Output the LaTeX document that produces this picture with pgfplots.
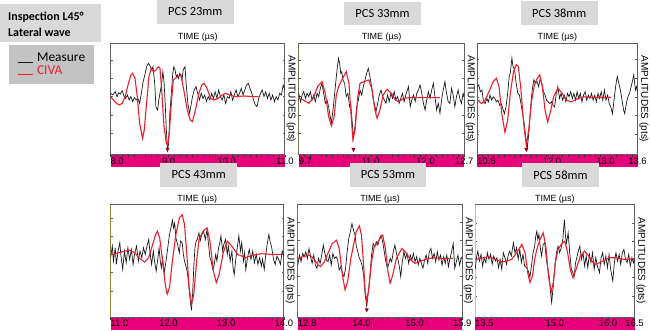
\documentclass[border=0pt]{standalone}
\usepackage{fontspec}
\setmainfont{Liberation Sans}
\newfontfamily\carlito{Carlito}
\usepackage{pgfplots}
\pgfplotsset{compat=1.18}
\definecolor{civared}{RGB}{240,30,45}
\definecolor{measblack}{RGB}{25,25,25}
\definecolor{barpink}{RGB}{232,0,122}
\definecolor{boxgray}{RGB}{217,217,217}
\definecolor{leggray}{RGB}{195,195,195}
\definecolor{spine}{RGB}{225,215,0}
\definecolor{framegray}{RGB}{95,95,95}
\definecolor{cursorred}{RGB}{150,0,30}
\pgfplotsset{
  panel/.style={
    scale only axis, anchor=south west,
    axis line style={framegray, line width=0.9pt},
    xtick pos=left, ytick pos=both,
    xtick align=outside, ytick align=inside,
    major tick length=2.2pt, minor tick length=1.6pt,
    x tick style={black!80, line width=0.5pt},
    minor x tick style={black!80, line width=0.5pt},
    y tick style={framegray, line width=0.5pt},
    ytick={-110,-55,0,55,110}, yticklabels={},
    xticklabel style={font=\fontsize{9.5}{10}\selectfont, inner sep=0.4pt, text=black},
    xlabel={TIME (µs)},
    xlabel style={at={(axis description cs:0.5,1)}, anchor=south, inner sep=1.5pt, font=\fontsize{9}{10}\selectfont},
    ylabel={AMPLITUDES (pts)},
    ylabel style={at={(axis description cs:1,0.5)}, rotate=180, anchor=south, inner sep=1.5pt, font=\fontsize{10}{11}\selectfont},
    title style={fill=boxgray, minimum width=77pt, minimum height=24pt, inner sep=0pt, anchor=center, font=\carlito\fontsize{12.5}{14}\selectfont},
  },
  measline/.style={color=measblack, line width=0.7pt},
  civaline/.style={color=civared, line width=1.1pt},
}
\begin{document}
\begin{tikzpicture}
\begin{scope}[x=1pt,y=1pt]
\useasboundingbox (0,0) rectangle (650,328);
\fill[white] (0,0) rectangle (650,328);
% pink time bars
\fill[barpink] (111,164) rectangle (286,176);
\fill[barpink] (300,164) rectangle (466,176);
\fill[barpink] (479,164) rectangle (640,176);
\fill[barpink] (111,0) rectangle (285,13);
\fill[barpink] (299,0) rectangle (464,13);
\fill[barpink] (477,0) rectangle (637,13);
% header box
\fill[boxgray] (0,289) rectangle (101,328);
\node[anchor=west, font=\carlito\bfseries\fontsize{12}{13}\selectfont, inner sep=0pt] at (8,314) {Inspection L45°};
\node[anchor=west, font=\carlito\bfseries\fontsize{12}{13}\selectfont, inner sep=0pt] at (8,299) {Lateral wave};
\end{scope}

% ---------- PCS 23mm ----------
\begin{axis}[panel, at={(111pt,176pt)}, width=175pt, height=112pt,
  xmin=8, xmax=11, ymin=-175, ymax=160,
  xtick={8,9,10,11}, xticklabels={\makebox[0pt][l]{8.0},9.0,10.0,11.0},
  minor xtick={8.1,8.2,...,10.9},
  title={PCS 23mm}, title style={at={(axis description cs:0.486,1.228)}},
  legend style={at={(axis description cs:-0.583,0.985)}, anchor=north west, fill=leggray, draw=none,
    font=\carlito\fontsize{13.5}{15}\selectfont, inner xsep=8pt, inner ysep=7pt, row sep=0pt, column sep=3pt,
    nodes={inner sep=1pt}},
  legend cell align=left,
  legend image code/.code={\draw[#1, line width=1pt] (0pt,-4pt) -- (15pt,-4pt);},
]
\addplot[measline] coordinates {(8.00,10) (8.04,5) (8.08,15) (8.11,0) (8.14,12) (8.17,8) (8.20,18) (8.23,2) (8.26,-5) (8.29,5) (8.32,-10) (8.35,0) (8.38,-15) (8.41,-3) (8.44,-10) (8.47,-5) (8.50,-20) (8.53,10) (8.56,45) (8.59,65) (8.62,90) (8.65,100) (8.68,92) (8.71,80) (8.73,90) (8.76,40) (8.78,-30) (8.81,-40) (8.83,-10) (8.86,20) (8.88,40) (8.90,75) (8.92,45) (8.94,-20) (8.96,-100) (8.98,-160) (9.00,-140) (9.02,-50) (9.05,20) (9.07,70) (9.09,90) (9.11,80) (9.13,60) (9.15,65) (9.17,55) (9.19,70) (9.21,65) (9.23,50) (9.25,80) (9.28,90) (9.30,40) (9.33,-20) (9.36,-50) (9.38,-30) (9.41,0) (9.44,20) (9.47,30) (9.50,10) (9.53,-10) (9.56,10) (9.59,-5) (9.62,5) (9.65,-15) (9.68,0) (9.71,-10) (9.74,10) (9.77,-5) (9.80,15) (9.83,-5) (9.86,20) (9.89,0) (9.92,-10) (9.95,5) (9.98,-20) (10.01,0) (10.04,-5) (10.07,15) (10.10,-10) (10.13,5) (10.16,20) (10.19,0) (10.22,10) (10.25,25) (10.28,5) (10.31,20) (10.34,35) (10.37,40) (10.40,25) (10.43,10) (10.46,-10) (10.49,-25) (10.52,-30) (10.55,-5) (10.58,10) (10.61,20) (10.64,0) (10.67,15) (10.70,-5) (10.73,10) (10.76,-10) (10.79,5) (10.82,-15) (10.85,0) (10.88,-10) (10.91,10) (10.94,5) (10.97,35) (11.00,20)};
\addlegendentry{Measure}
\addplot[civaline] coordinates {(8.00,0) (8.05,-10) (8.10,-20) (8.15,-25) (8.20,-20) (8.25,0) (8.30,35) (8.35,65) (8.38,70) (8.42,55) (8.46,0) (8.50,-80) (8.55,-125) (8.58,-100) (8.62,-20) (8.66,60) (8.70,85) (8.74,75) (8.78,80) (8.82,90) (8.85,85) (8.88,20) (8.92,-90) (8.96,-140) (8.98,-145) (9.01,-110) (9.05,-10) (9.08,50) (9.11,55) (9.16,60) (9.21,65) (9.26,20) (9.32,-40) (9.37,-70) (9.41,-75) (9.46,-40) (9.52,10) (9.57,35) (9.61,40) (9.66,25) (9.72,-5) (9.78,-10) (9.85,-5) (9.92,5) (9.98,10) (10.05,5) (10.15,0) (10.30,2) (10.45,0) (10.55,0)};
\addlegendentry{\textcolor{civared}{CIVA}}
\fill[cursorred] ([yshift=3pt]axis cs:8.98,-175) -- ++(-2pt,4pt) -- ++(4pt,0pt) -- cycle;
\end{axis}

% ---------- PCS 33mm ----------
\begin{axis}[panel, at={(300pt,176pt)}, width=166pt, height=112pt,
  xmin=9.7, xmax=12.7, ymin=-175, ymax=160,
  xtick={9.7,11,12,12.7}, xticklabels={\makebox[0pt][l]{9.7},11.0,12.0,12.7},
  minor xtick={9.8,9.9,...,12.6},
  title={PCS 33mm}, title style={at={(axis description cs:0.506,1.214)}},
]
\draw[spine, line width=1.2pt] (rel axis cs:0,0) -- (rel axis cs:0,1);
\addplot[measline] coordinates {(9.70,10) (9.73,-15) (9.76,5) (9.79,15) (9.82,-5) (9.85,10) (9.88,0) (9.91,15) (9.94,-10) (9.97,5) (10.00,-15) (10.03,10) (10.06,0) (10.09,25) (10.12,40) (10.15,10) (10.18,-20) (10.21,-10) (10.24,-30) (10.27,-60) (10.29,-80) (10.32,-40) (10.35,10) (10.38,60) (10.40,90) (10.42,115) (10.44,100) (10.46,70) (10.48,75) (10.50,50) (10.53,40) (10.56,0) (10.59,10) (10.62,-30) (10.64,-20) (10.67,-80) (10.69,-125) (10.72,-90) (10.75,-30) (10.78,-10) (10.81,20) (10.84,5) (10.87,30) (10.90,50) (10.93,70) (10.96,85) (10.99,60) (11.02,30) (11.05,-10) (11.08,-30) (11.10,-45) (11.13,-20) (11.16,5) (11.19,20) (11.22,0) (11.25,-10) (11.28,-20) (11.31,5) (11.34,-15) (11.37,10) (11.40,-5) (11.43,15) (11.46,-10) (11.49,0) (11.52,-20) (11.55,-5) (11.58,10) (11.61,-15) (11.64,5) (11.67,20) (11.69,30) (11.72,-30) (11.75,-10) (11.78,5) (11.81,-15) (11.84,10) (11.87,20) (11.90,35) (11.93,10) (11.96,-20) (11.99,-40) (12.02,-10) (12.05,15) (12.08,-5) (12.11,20) (12.14,40) (12.17,0) (12.20,-40) (12.23,-20) (12.26,-50) (12.29,-10) (12.32,20) (12.35,45) (12.38,10) (12.41,-15) (12.44,-20) (12.47,25) (12.50,5) (12.53,-30) (12.56,0) (12.59,20) (12.62,-5) (12.65,-20) (12.68,10) (12.70,0)};
\addplot[civaline] coordinates {(9.70,-5) (9.78,-10) (9.88,-20) (9.96,-5) (10.04,30) (10.12,45) (10.18,10) (10.24,-60) (10.29,-88) (10.34,-60) (10.38,5) (10.42,30) (10.48,50) (10.56,75) (10.61,40) (10.65,-60) (10.68,-128) (10.72,-100) (10.77,0) (10.81,40) (10.88,45) (10.97,50) (11.03,20) (11.08,-40) (11.12,-65) (11.17,-40) (11.23,5) (11.30,22) (11.38,10) (11.45,-10) (11.51,-15) (11.60,-5) (11.70,-3) (11.85,-3) (12.00,-3) (12.15,-3) (12.26,-3)};
\fill[cursorred] ([yshift=3pt]axis cs:10.69,-175) -- ++(-2pt,4pt) -- ++(4pt,0pt) -- cycle;
\end{axis}

% ---------- PCS 38mm ----------
\begin{axis}[panel, at={(479pt,176pt)}, width=161pt, height=112pt,
  xmin=10.6, xmax=13.6, ymin=-172, ymax=158,
  xtick={10.6,12,13,13.6}, xticklabels={\makebox[0pt][l]{10.6},12.0,13.0,13.6},
  minor xtick={10.7,10.8,...,13.5},
  title={PCS 38mm}, title style={at={(axis description cs:0.512,1.219)}},
]
\addplot[measline] coordinates {(10.60,30) (10.63,35) (10.66,15) (10.69,20) (10.72,-15) (10.75,-20) (10.78,-5) (10.81,-15) (10.84,5) (10.87,-10) (10.90,0) (10.93,-5) (10.96,-15) (10.99,-10) (11.02,-25) (11.05,-20) (11.08,-35) (11.11,-50) (11.14,-30) (11.17,10) (11.20,60) (11.22,70) (11.25,115) (11.27,90) (11.30,80) (11.33,40) (11.36,10) (11.39,5) (11.42,-20) (11.45,-50) (11.48,-80) (11.51,-120) (11.54,-150) (11.57,-100) (11.60,-30) (11.63,20) (11.66,50) (11.69,40) (11.72,45) (11.75,30) (11.78,55) (11.81,40) (11.84,15) (11.87,5) (11.90,-10) (11.93,-15) (11.96,-20) (11.99,-15) (12.02,-25) (12.05,-30) (12.08,10) (12.11,30) (12.14,-5) (12.17,10) (12.20,-10) (12.23,5) (12.26,-15) (12.29,10) (12.32,0) (12.35,15) (12.38,-5) (12.41,10) (12.44,-10) (12.47,15) (12.50,-5) (12.53,10) (12.56,-15) (12.59,5) (12.62,15) (12.65,-10) (12.68,5) (12.71,-5) (12.74,10) (12.77,-10) (12.80,5) (12.83,-15) (12.86,10) (12.89,-5) (12.92,15) (12.95,-10) (12.98,20) (13.01,-10) (13.04,5) (13.07,-20) (13.10,-30) (13.13,-50) (13.16,-10) (13.19,30) (13.22,60) (13.25,40) (13.28,20) (13.31,-10) (13.34,-40) (13.36,-50) (13.39,-20) (13.42,0) (13.45,10) (13.48,30) (13.51,50) (13.53,65) (13.56,20) (13.58,30) (13.60,15)};
\addplot[civaline] coordinates {(10.62,-10) (10.68,-20) (10.75,-10) (10.82,15) (10.90,45) (10.96,55) (11.01,30) (11.06,-50) (11.12,-105) (11.17,-70) (11.22,10) (11.28,75) (11.33,95) (11.37,90) (11.42,20) (11.47,-80) (11.52,-145) (11.57,-90) (11.62,-10) (11.67,35) (11.71,50) (11.77,65) (11.82,30) (11.87,-40) (11.92,-75) (11.97,-45) (12.03,0) (12.11,25) (12.19,10) (12.27,-10) (12.36,-15) (12.45,-8) (12.58,0) (12.75,-2) (12.95,-2) (13.10,-2)};
\fill[cursorred] ([yshift=3pt]axis cs:11.52,-172) -- ++(-2pt,4pt) -- ++(4pt,0pt) -- cycle;
\end{axis}

% ---------- PCS 43mm ----------
\begin{axis}[panel, at={(111pt,13pt)}, width=174pt, height=113pt,
  xmin=11, xmax=14, ymin=-190, ymax=150,
  xtick={11,12,13,14}, xticklabels={\makebox[0pt][l]{11.0},12.0,13.0,14.0},
  minor xtick={11.1,11.2,...,13.9},
  title={PCS 43mm}, title style={at={(axis description cs:0.509,1.212)}},
]
\draw[spine, line width=1.2pt] (rel axis cs:0,0) -- (rel axis cs:0,1);
\addplot[measline] coordinates {(11.00,-10) (11.03,25) (11.05,-20) (11.08,20) (11.10,-30) (11.13,10) (11.16,35) (11.18,-5) (11.21,-45) (11.24,10) (11.27,-25) (11.30,20) (11.33,-15) (11.36,15) (11.39,-30) (11.42,5) (11.45,25) (11.48,-20) (11.51,10) (11.54,-10) (11.57,20) (11.60,0) (11.63,25) (11.66,45) (11.68,10) (11.71,-30) (11.74,10) (11.76,-20) (11.79,-50) (11.82,-10) (11.84,20) (11.86,-20) (11.88,-40) (11.90,-10) (11.93,-55) (11.96,-20) (11.99,20) (12.02,60) (12.05,85) (12.07,104) (12.09,80) (12.11,95) (12.13,50) (12.16,30) (12.19,5) (12.21,40) (12.24,35) (12.26,0) (12.28,-20) (12.31,-40) (12.33,-55) (12.35,-90) (12.38,-140) (12.40,-169) (12.42,-120) (12.44,-40) (12.46,20) (12.48,40) (12.50,45) (12.53,65) (12.55,40) (12.58,60) (12.61,70) (12.64,45) (12.67,75) (12.69,40) (12.72,-10) (12.74,-20) (12.77,-45) (12.79,-34) (12.82,0) (12.84,-20) (12.87,20) (12.89,35) (12.91,56) (12.94,10) (12.96,30) (12.99,45) (13.02,0) (13.04,25) (13.07,-20) (13.10,10) (13.12,-40) (13.14,-61) (13.17,-10) (13.20,30) (13.22,56) (13.25,10) (13.27,35) (13.30,-20) (13.32,5) (13.34,-46) (13.37,-10) (13.40,15) (13.43,-15) (13.46,10) (13.49,-25) (13.52,0) (13.55,-30) (13.58,-10) (13.61,-35) (13.63,-15) (13.66,-45) (13.68,-10) (13.71,30) (13.74,60) (13.76,40) (13.79,20) (13.82,-15) (13.85,-30) (13.88,-5) (13.91,-15) (13.94,-30) (13.97,10) (14.00,-5)};
\addplot[civaline] coordinates {(11.00,0) (11.10,3) (11.20,8) (11.33,13) (11.42,5) (11.50,-12) (11.59,-23) (11.66,-10) (11.72,25) (11.78,60) (11.81,70) (11.85,50) (11.90,-20) (11.95,-95) (11.98,-120) (12.02,-100) (12.07,-20) (12.13,60) (12.19,110) (12.24,120) (12.28,90) (12.32,0) (12.36,-100) (12.40,-150) (12.44,-120) (12.49,-20) (12.53,45) (12.60,70) (12.67,80) (12.72,40) (12.78,-50) (12.83,-85) (12.88,-60) (12.95,5) (13.02,40) (13.10,25) (13.20,0) (13.34,-10) (13.45,-3) (13.60,2) (13.80,0) (13.96,0)};
\end{axis}

% ---------- PCS 53mm ----------
\begin{axis}[panel, at={(299pt,13pt)}, width=165pt, height=113pt,
  xmin=12.8, xmax=15.9, ymin=-178, ymax=162,
  xtick={12.8,14,15,15.9}, xticklabels={\makebox[0pt][l]{12.8},14.0,15.0,15.9},
  minor xtick={12.9,13.0,...,15.8},
  title={PCS 53mm}, title style={at={(axis description cs:0.548,1.212)}},
]
\draw[spine, line width=1.2pt] (rel axis cs:0,0) -- (rel axis cs:0,1);
\addplot[measline] coordinates {(12.80,-20) (12.83,10) (12.86,-10) (12.89,15) (12.92,5) (12.95,20) (12.98,0) (13.01,30) (13.04,5) (13.07,-15) (13.10,10) (13.13,-20) (13.16,-30) (13.19,0) (13.22,-15) (13.25,10) (13.28,40) (13.31,15) (13.34,-5) (13.37,-10) (13.40,10) (13.43,-20) (13.46,15) (13.49,0) (13.52,5) (13.55,-5) (13.58,-35) (13.61,-25) (13.64,-45) (13.67,-55) (13.70,-30) (13.73,20) (13.76,60) (13.79,80) (13.82,105) (13.85,85) (13.88,70) (13.90,40) (13.93,20) (13.96,0) (13.98,-5) (14.01,-20) (14.04,-50) (14.07,-110) (14.10,-145) (14.13,-100) (14.16,-50) (14.19,10) (14.22,45) (14.25,35) (14.28,50) (14.31,40) (14.34,60) (14.37,70) (14.40,50) (14.43,20) (14.46,-10) (14.49,-30) (14.51,-20) (14.54,0) (14.57,-10) (14.60,20) (14.63,40) (14.66,15) (14.69,-5) (14.72,-30) (14.74,-55) (14.77,-10) (14.80,20) (14.83,0) (14.86,15) (14.89,-15) (14.92,10) (14.95,-5) (14.98,15) (15.01,-10) (15.04,5) (15.07,-20) (15.10,0) (15.13,-15) (15.16,-30) (15.19,-5) (15.22,10) (15.25,-15) (15.28,20) (15.31,30) (15.34,0) (15.37,15) (15.40,-10) (15.43,20) (15.46,-5) (15.49,10) (15.52,-20) (15.55,5) (15.58,-15) (15.61,10) (15.64,-25) (15.67,0) (15.70,20) (15.73,45) (15.76,-30) (15.79,-10) (15.82,10) (15.85,-20) (15.88,0) (15.90,5)};
\addplot[civaline] coordinates {(12.80,0) (12.90,5) (13.01,10) (13.10,0) (13.18,-20) (13.23,-25) (13.30,-10) (13.38,20) (13.45,45) (13.53,55) (13.58,30) (13.64,-50) (13.69,-95) (13.74,-70) (13.80,0) (13.85,40) (13.90,80) (13.96,98) (14.00,70) (14.04,-20) (14.07,-100) (14.10,-130) (14.14,-90) (14.19,-10) (14.24,35) (14.29,45) (14.35,60) (14.40,70) (14.45,30) (14.50,-40) (14.54,-75) (14.59,-50) (14.66,0) (14.76,30) (14.85,15) (14.93,-5) (15.01,-15) (15.10,-10) (15.20,-3) (15.35,2) (15.50,0) (15.73,0)};
\fill[cursorred] ([yshift=5pt]axis cs:14.10,-178) -- ++(-2pt,4pt) -- ++(4pt,0pt) -- cycle;
\end{axis}

% ---------- PCS 58mm ----------
\begin{axis}[panel, at={(477pt,13pt)}, width=160pt, height=113pt,
  xmin=13.5, xmax=16.5, ymin=-175, ymax=165,
  xtick={13.5,15,16,16.5}, xticklabels={\makebox[0pt][l]{13.5},15.0,16.0,16.5},
  minor xtick={13.6,13.7,...,16.4},
  title={PCS 58mm}, title style={at={(axis description cs:0.535,1.212)}},
]
\draw[spine, line width=1.2pt] (rel axis cs:0,0) -- (rel axis cs:0,1);
\addplot[measline] coordinates {(13.50,-30) (13.53,10) (13.55,25) (13.58,-5) (13.61,15) (13.64,-20) (13.67,5) (13.70,-10) (13.73,20) (13.76,0) (13.79,15) (13.82,-15) (13.85,10) (13.88,-5) (13.91,5) (13.94,-25) (13.97,0) (14.00,-30) (14.03,20) (14.06,5) (14.09,-15) (14.12,10) (14.15,25) (14.18,10) (14.22,50) (14.25,20) (14.28,35) (14.31,0) (14.34,30) (14.37,-10) (14.40,15) (14.43,-20) (14.47,-25) (14.50,-35) (14.53,-55) (14.56,-20) (14.59,20) (14.62,40) (14.64,70) (14.66,85) (14.68,60) (14.70,75) (14.73,30) (14.75,10) (14.78,45) (14.81,50) (14.84,0) (14.87,-30) (14.90,-60) (14.92,-100) (14.94,-130) (14.97,-80) (15.00,-20) (15.03,20) (15.06,40) (15.09,20) (15.12,35) (15.15,60) (15.18,120) (15.20,70) (15.22,50) (15.25,80) (15.28,20) (15.31,-30) (15.34,-40) (15.36,-55) (15.39,-10) (15.42,10) (15.45,30) (15.47,40) (15.50,0) (15.53,20) (15.56,-20) (15.59,10) (15.62,-25) (15.65,15) (15.68,-10) (15.71,20) (15.74,-30) (15.77,5) (15.80,-20) (15.84,-40) (15.87,5) (15.90,20) (15.93,-15) (15.96,10) (15.99,-25) (16.02,15) (16.05,-30) (16.09,-65) (16.12,-10) (16.15,20) (16.18,-5) (16.21,15) (16.24,-15) (16.27,20) (16.30,30) (16.33,0) (16.36,-10) (16.39,15) (16.42,-20) (16.45,5) (16.48,-10) (16.50,0)};
\addplot[civaline] coordinates {(13.50,0) (13.60,3) (13.75,8) (13.88,0) (14.00,-8) (14.10,-5) (14.19,0) (14.28,20) (14.38,45) (14.44,20) (14.49,-40) (14.53,-70) (14.58,-50) (14.62,0) (14.66,30) (14.72,60) (14.78,80) (14.83,40) (14.88,-50) (14.93,-100) (14.97,-70) (15.01,-10) (15.06,30) (15.12,45) (15.19,55) (15.24,20) (15.29,-30) (15.34,-55) (15.40,-30) (15.48,10) (15.56,25) (15.64,10) (15.72,-10) (15.78,-15) (15.90,-5) (16.03,5) (16.15,5) (16.30,0) (16.50,2)};
\end{axis}
\end{tikzpicture}
\end{document}
